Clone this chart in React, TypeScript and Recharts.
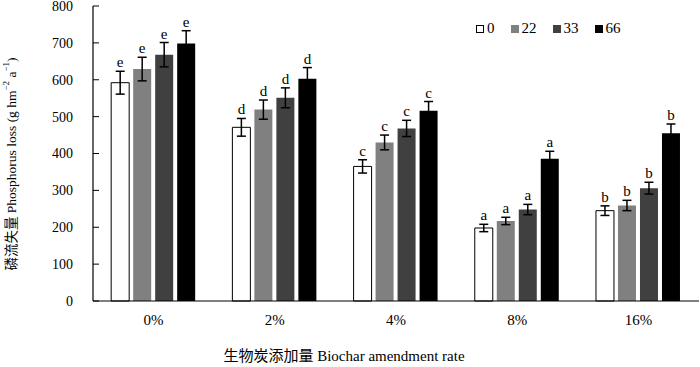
import { Bar, BarChart, ErrorBar, LabelList, Legend, XAxis, YAxis } from "recharts";

const FONT = "'Liberation Serif', 'Noto Sans CJK SC', serif";

const categories = ["0%", "2%", "4%", "8%", "16%"];
const seriesNames = ["0", "22", "33", "66"];
const loss0 = [592, 471, 365, 198, 245];
const loss22 = [629, 519, 430, 217, 259];
const loss33 = [668, 551, 468, 248, 306];
const loss66 = [698, 603, 516, 386, 455];
const err0 = [31, 24, 18, 10, 13];
const err22 = [32, 26, 20, 10, 14];
const err33 = [33, 27, 22, 14, 16];
const err66 = [35, 30, 25, 20, 25];
const letters = ["e", "d", "c", "a", "b"];
const yTicks = [0, 100, 200, 300, 400, 500, 600, 700, 800];
const boundaryTicks = [0, 1, 2, 3, 4, 5];

const COLORS = ["#ffffff", "#808080", "#404040", "#000000"];
const values = [loss0, loss22, loss33, loss66];
const errors = [err0, err22, err33, err66];

const data = categories.map((name, i) => {
    const row: Record<string, string | number> = { name };
    seriesNames.forEach((s, k) => {
        row[`v${s}`] = values[k][i];
        row[`e${s}`] = errors[k][i];
    });
    return row;
});

const letterLabel = (errs: number[]) => (props: any) => {
    const { x, y, width, height, value, index } = props;
    if (value == null || !height) return null;
    const pxPerUnit = height / value;
    const top = y - errs[index] * pxPerUnit;
    return (
        <text x={x + width / 2} y={top - 4} textAnchor="middle" fontSize={15} fontFamily={FONT} fill="#000">
            {letters[index]}
        </text>
    );
};

const LegendBox = () => (
    <div style={{ display: "flex", alignItems: "center", fontFamily: FONT, fontSize: 15, color: "#000" }}>
        {seriesNames.map((s, k) => (
            <span key={s} style={{ display: "inline-flex", alignItems: "center", marginRight: 16 }}>
                <span
                    style={{
                        display: "inline-block",
                        width: 8,
                        height: 8,
                        boxSizing: "border-box",
                        background: COLORS[k],
                        border: k === 0 ? "1.5px solid #000" : "none",
                    }}
                />
                <span style={{ marginLeft: 3 }}>{s}</span>
            </span>
        ))}
    </div>
);

const YLabel = () => {
    const cx = 11;
    const cy = 164;
    return (
        <text
            x={cx}
            y={cy}
            transform={`rotate(-90, ${cx}, ${cy})`}
            textAnchor="middle"
            dominantBaseline="central"
            fontSize={13.5}
            fontFamily={FONT}
            fill="#000"
        >
            磷流失量 Phosphorus loss (g hm
            <tspan dy={-5} fontSize={9}>−2</tspan>
            <tspan dy={5}> a</tspan>
            <tspan dy={-5} fontSize={9}>−1</tspan>
            <tspan dy={5}>)</tspan>
        </text>
    );
};

const XLabel = (props: any) => {
    const { viewBox } = props;
    const cx = viewBox.x + viewBox.width / 2 - 52;
    return (
        <text x={cx} y={361} textAnchor="middle" fontSize={15} fontFamily={FONT} fill="#000">
            生物炭添加量 Biochar amendment rate
        </text>
    );
};

const PhosphorusChart = () => {
    return (
        <div style={{ position: "absolute", left: 0, top: 0, width: 700, height: 367, background: "#fff" }}>
            <BarChart
                width={700}
                height={367}
                data={data}
                margin={{ top: 6, right: 1, bottom: 0, left: 0 }}
                barCategoryGap="15%"
                barGap={4}
            >
                <XAxis
                    xAxisId="bounds"
                    type="number"
                    domain={[0, 5]}
                    ticks={boundaryTicks}
                    allowDataOverflow
                    height={0}
                    axisLine={false}
                    tick={false}
                    tickSize={-5}
                    tickLine={{ stroke: "#000" }}
                />
                <XAxis
                    dataKey="name"
                    height={66}
                    axisLine={{ stroke: "#000", strokeWidth: 1.2 }}
                    tickLine={false}
                    tickSize={0}
                    tickMargin={13}
                    tick={{ fill: "#000", fontSize: 15, fontFamily: FONT }}
                    label={<XLabel />}
                />
                <YAxis
                    width={93}
                    domain={[0, 800]}
                    ticks={yTicks}
                    interval={0}
                    axisLine={{ stroke: "#000", strokeWidth: 1.2 }}
                    tickLine={{ stroke: "#000" }}
                    tickSize={-6}
                    tickMargin={26}
                    tick={{ fill: "#000", fontSize: 14, fontFamily: FONT }}
                    label={<YLabel />}
                />
                <Legend
                    verticalAlign="middle"
                    wrapperStyle={{ top: 20, left: 476, width: "auto" }}
                    content={<LegendBox />}
                />
                {seriesNames.map((s, k) => (
                    <Bar
                        key={s}
                        dataKey={`v${s}`}
                        name={s}
                        fill={COLORS[k]}
                        stroke={k === 0 ? "#000" : "none"}
                        strokeWidth={1}
                        isAnimationActive={false}
                    >
                        <ErrorBar dataKey={`e${s}`} width={4.5} stroke="#000" strokeWidth={1.5} direction="y" />
                        <LabelList dataKey={`v${s}`} content={letterLabel(errors[k])} />
                    </Bar>
                ))}
            </BarChart>
        </div>
    );
};

export default function App() {
    return <PhosphorusChart />;
}
